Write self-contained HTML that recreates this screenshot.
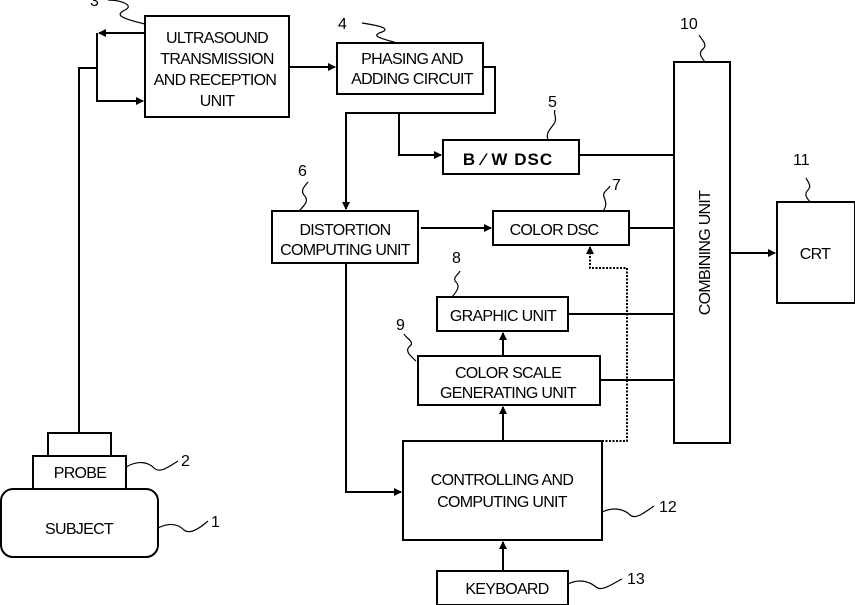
<!DOCTYPE html>
<html><head><meta charset="utf-8"><style>
html,body{margin:0;padding:0;background:#fff;}
svg{display:block;}
text{font-family:"Liberation Sans",sans-serif;font-size:16px;fill:#000;letter-spacing:-0.7px;}
.n{font-size:16px;letter-spacing:0;}
.b{fill:#fff;stroke:#000;stroke-width:2;}
.l{fill:none;stroke:#000;stroke-width:2;}
.s{fill:none;stroke:#000;stroke-width:1.2;}
</style></head><body>
<svg width="855" height="605" viewBox="0 0 855 605">
<defs><marker id="a" markerWidth="8" markerHeight="8" refX="7" refY="4" orient="auto" markerUnits="userSpaceOnUse"><path d="M0,0 L8,4 L0,8z" fill="#000"/></marker></defs>
<rect class="b" x="145" y="16" width="144" height="101"/>
<text x="217" y="43" text-anchor="middle">ULTRASOUND</text>
<text x="217" y="64" text-anchor="middle">TRANSMISSION</text>
<text x="215" y="85" text-anchor="middle">AND RECEPTION</text>
<text x="217" y="106" text-anchor="middle">UNIT</text>
<rect class="b" x="337" y="43" width="146" height="51"/>
<text x="412" y="64" text-anchor="middle">PHASING AND</text>
<text x="412" y="84" text-anchor="middle">ADDING CIRCUIT</text>
<rect class="b" x="443" y="140" width="136" height="34"/>
<text x="508" y="165" text-anchor="middle" style="font-size:17px;letter-spacing:1px;font-weight:bold">B ⁄ W  DSC</text>
<rect class="b" x="272" y="211" width="146" height="52"/>
<text x="345" y="235" text-anchor="middle">DISTORTION</text>
<text x="345" y="255" text-anchor="middle">COMPUTING UNIT</text>
<rect class="b" x="493" y="211" width="136" height="34"/>
<text x="554" y="235" text-anchor="middle">COLOR DSC</text>
<rect class="b" x="437" y="297" width="131" height="34"/>
<text x="503" y="321" text-anchor="middle">GRAPHIC UNIT</text>
<rect class="b" x="418" y="356" width="182" height="49"/>
<text x="508" y="378" text-anchor="middle">COLOR SCALE</text>
<text x="508" y="398" text-anchor="middle">GENERATING UNIT</text>
<rect class="b" x="403" y="441" width="199" height="99"/>
<text x="502" y="485" text-anchor="middle">CONTROLLING AND</text>
<text x="502" y="507" text-anchor="middle">COMPUTING UNIT</text>
<rect class="b" x="437" y="571" width="131" height="34"/>
<text x="507" y="594" text-anchor="middle">KEYBOARD</text>
<rect class="b" x="674" y="62" width="56" height="381"/>
<text transform="translate(710,253) rotate(-90)" text-anchor="middle">COMBINING UNIT</text>
<rect class="b" x="777" y="202" width="78" height="101"/>
<text x="815" y="259" text-anchor="middle">CRT</text>
<rect class="b" x="48" y="433" width="63" height="23"/>
<rect class="b" x="33" y="456" width="93" height="33"/>
<text x="80" y="478" text-anchor="middle">PROBE</text>
<rect class="b" x="1" y="489" width="157" height="68" rx="12"/>
<text x="79" y="534" text-anchor="middle">SUBJECT</text>
<path class="l" d="M79,433 V68 H97"/>
<path class="l" d="M145,33 H99" marker-end="url(#a)"/>
<path class="l" d="M97,33 V101 H143" marker-end="url(#a)"/>
<path class="l" d="M289,67 H335" marker-end="url(#a)"/>
<path class="l" d="M483,67 H495 V113 H346 V209" marker-end="url(#a)"/>
<path class="l" d="M399,113 V155 H441" marker-end="url(#a)"/>
<path class="l" d="M579,155 H674"/>
<path class="l" d="M421,228 H491" marker-end="url(#a)"/>
<path class="l" d="M629,228 H674"/>
<path class="l" d="M568,314 H674"/>
<path class="l" d="M600,380 H674"/>
<path class="l" d="M346,263 V492 H401" marker-end="url(#a)"/>
<path class="l" d="M503,441 V407" marker-end="url(#a)"/>
<path class="l" d="M503,356 V333" marker-end="url(#a)"/>
<path class="l" d="M503,571 V542" marker-end="url(#a)"/>
<path class="l" d="M730,253 H775" marker-end="url(#a)"/>
<path d="M602,441 H627 V268 H590 V247" fill="none" stroke="#000" stroke-width="2" stroke-dasharray="2,1.5" marker-end="url(#a)"/>
<path class="s" d="M145,24 C120,18 115,15 125,10 C135,5 120,0 108,0"/>
<text class="n" x="90" y="6">3</text>
<path class="s" d="M397,43 C380,38 370,36 382,32 C392,28 375,25 362,23"/>
<text class="n" x="338" y="29">4</text>
<path class="s" d="M548,140 C545,132 552,128 555,122 C557,116 553,114 555,110"/>
<text class="n" x="548" y="107">5</text>
<path class="s" d="M299,211 C306,204 309,200 304,195 C300,190 305,186 308,182"/>
<text class="n" x="298" y="176">6</text>
<path class="s" d="M603,211 C608,205 605,200 604,197 C602,192 608,190 610,186"/>
<text class="n" x="612" y="190">7</text>
<path class="s" d="M452,297 C458,290 460,286 456,282 C452,278 458,275 460,271"/>
<text class="n" x="452" y="263">8</text>
<path class="s" d="M416,361 C408,354 405,350 410,346 C415,342 406,338 404,334"/>
<text class="n" x="396" y="330">9</text>
<path class="s" d="M705,62 C701,57 698,53 703,49 C708,45 702,40 699,35"/>
<text class="n" x="680" y="29">10</text>
<path class="s" d="M810,202 C806,197 804,194 808,190 C812,186 808,182 806,178"/>
<text class="n" x="793" y="165">11</text>
<path class="s" d="M602,512 C615,506 625,510 630,515 C636,520 645,512 654,506"/>
<text class="n" x="659" y="512">12</text>
<path class="s" d="M568,584 C580,578 590,582 596,587 C602,592 612,584 622,579"/>
<text class="n" x="627" y="584">13</text>
<path class="s" d="M126,467 C138,460 148,462 154,468 C160,474 170,466 178,461"/>
<text class="n" x="181" y="466">2</text>
<path class="s" d="M158,528 C170,522 178,524 184,530 C190,535 200,528 208,521"/>
<text class="n" x="211" y="527">1</text>
</svg>
</body></html>
